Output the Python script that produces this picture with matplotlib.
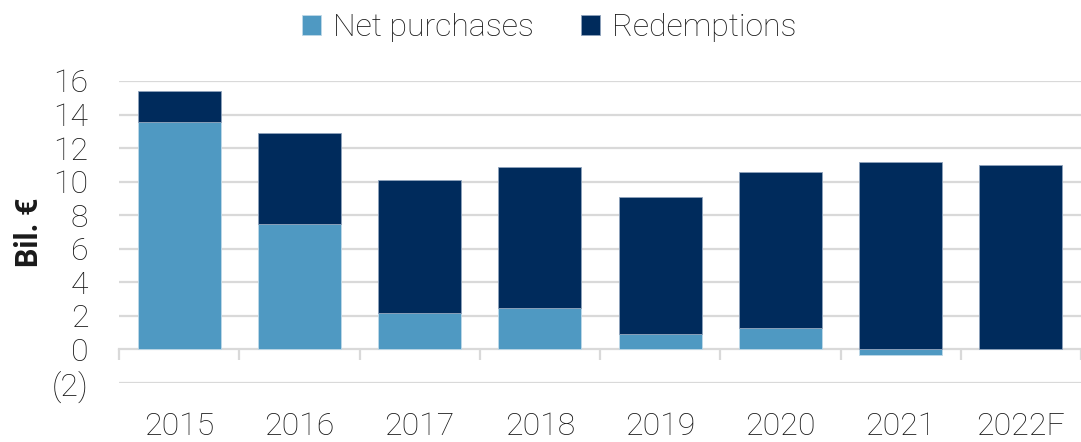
import matplotlib
matplotlib.use("Agg")
import matplotlib.pyplot as plt
import numpy as np
from matplotlib.ticker import FuncFormatter, FixedLocator

years = ["2015", "2016", "2017", "2018", "2019", "2020", "2021", "2022F"]
net_purchases = [13.55, 7.45, 2.2, 2.5, 0.9, 1.3, -0.35, 0.0]
redemptions = [1.85, 5.45, 7.9, 8.37, 8.17, 9.27, 11.2, 11.0]

light_blue = "#4F99C2"
navy = "#002B5C"
grid_c = "#D9D9D9"
txt_c = "#1a1a1a"

plt.rcParams['font.family'] = ['Roboto', 'DejaVu Sans']

fig = plt.figure(figsize=(10.81, 4.42), dpi=100)
ax = fig.add_axes([119/1081, 1-383/442, 1-119/1081, (383-81)/442])

x = np.arange(len(years))
net = np.array(net_purchases)
red = np.array(redemptions)
bottom_red = np.where(net > 0, net, 0)
w = 0.69
ax.bar(x, net, w, color=light_blue, edgecolor="#BFD9E8", linewidth=0.6, label="Net purchases", zorder=3)
ax.bar(x, red, w, bottom=bottom_red, color=navy, edgecolor="#8FA3BC", linewidth=0.6, label="Redemptions", zorder=3)

ax.set_xlim(-0.5, len(years)-0.5)
ax.set_ylim(-2, 16)
ticks = list(range(-2, 17, 2))
ax.set_yticks(ticks)
ax.yaxis.set_major_formatter(FuncFormatter(lambda v, p: f"({int(-v)})" if v < 0 else f"{int(v)}"))
for t in ticks:
    if t != 0:
        ax.axhline(t, color=grid_c, linewidth=1.6, zorder=1)

for s in ["top", "right", "left"]:
    ax.spines[s].set_visible(False)
ax.spines["bottom"].set_position(("data", 0))
ax.spines["bottom"].set_color(grid_c)
ax.spines["bottom"].set_linewidth(1.6)
ax.spines["bottom"].set_zorder(2)

ax.set_xticks(x)
ax.set_xticklabels(years)
ax.xaxis.set_minor_locator(FixedLocator(np.arange(-0.5, len(years), 1.0)))
ax.tick_params(axis="x", which="major", length=0, pad=45, labelsize=23, colors=txt_c)
ax.tick_params(axis="x", which="minor", length=8, width=1.6, color=grid_c, direction="out")
ax.tick_params(axis="y", length=0, pad=22, labelsize=23, colors=txt_c)
for lbl in ax.get_xticklabels() + ax.get_yticklabels():
    lbl.set_fontweight("light")

ax.set_ylabel("Bil. €", fontsize=22, fontweight="bold", color=txt_c)
ax.yaxis.set_label_coords(-75/962, 0.5)

h, l = ax.get_legend_handles_labels()
leg = fig.legend(h, l, loc="upper center", bbox_to_anchor=(0.508, 1.035), ncol=2, frameon=False,
                 fontsize=23, handlelength=0.6, handleheight=0.6, handletextpad=0.35, columnspacing=1.5)
for t in leg.get_texts():
    t.set_color(txt_c)
    t.set_fontweight("light")

fig.savefig("out.png", dpi=100)
